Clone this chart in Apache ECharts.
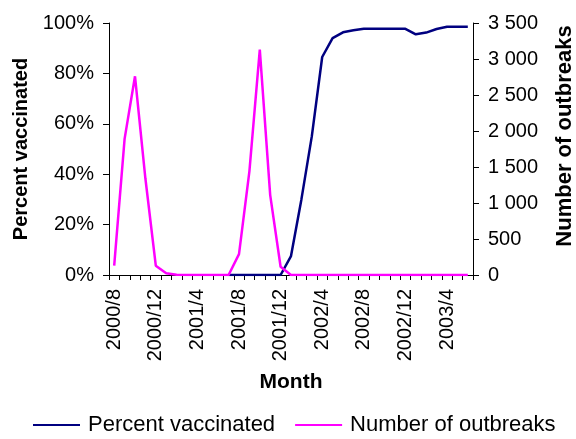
<!DOCTYPE html>
<html>
<head>
<meta charset="utf-8">
<script src="https://cdn.jsdelivr.net/npm/echarts@6/dist/echarts.min.js"></script>
<style>
html,body{margin:0;padding:0;background:#fff;}
#chart{width:576px;height:439px;}
</style>
</head>
<body>
<div id="chart"></div>
<script>
var months = ['2000/8','2000/9','2000/10','2000/11','2000/12',
  '2001/1','2001/2','2001/3','2001/4','2001/5','2001/6','2001/7','2001/8','2001/9','2001/10','2001/11','2001/12',
  '2002/1','2002/2','2002/3','2002/4','2002/5','2002/6','2002/7','2002/8','2002/9','2002/10','2002/11','2002/12',
  '2003/1','2003/2','2003/3','2003/4','2003/5','2003/6'];
var percentVaccinated = [null,null,null,null,null,null,null,null,null,null,null,
  0,0,0,0,0,0,
  7.5,30,55,86.5,94,96.3,97.1,97.7,97.7,97.7,97.7,97.7,
  95.5,96.2,97.6,98.5,98.5,98.5];
var numberOfOutbreaks = [130,1890,2760,1340,130,
  25,5,0,0,0,0,0,290,1440,3130,1110,115,
  0,0,0,0,0,0,0,0,0,0,0,0,
  0,0,0,0,0,0];
var leftTicks = [0,20,40,60,80,100];
var rightTicks = [0,500,1000,1500,2000,2500,3000,3500];

var font = 'Liberation Sans, Arial, sans-serif';
var chart = echarts.init(document.getElementById('chart'), null, {renderer:'canvas'});
chart.setOption({
  animation:false,
  backgroundColor:'#ffffff',
  textStyle:{fontFamily:font, color:'#000'},
  grid:{left:109, right:103, top:23, bottom:164, containLabel:false, outerBoundsMode:'none'},
  legend:{
    left:28, top:409, itemGap:20, itemWidth:47, itemHeight:2,
    icon:'rect',
    textStyle:{fontFamily:font, fontSize:22, color:'#000', padding:[0,0,0,3]},
    data:['Percent vaccinated','Number of outbreaks']
  },
  xAxis:{
    type:'category', data:months, boundaryGap:true,
    name:'Month', nameLocation:'middle', nameGap:97,
    nameTextStyle:{fontFamily:font, fontSize:21, fontWeight:'bold', color:'#000'},
    axisLine:{lineStyle:{color:'#000', width:1}},
    axisTick:{show:true, interval:0, length:5, lineStyle:{color:'#000'}},
    axisLabel:{interval:3, rotate:90, margin:14, fontFamily:font, fontSize:20, color:'#000'},
    splitLine:{show:false}
  },
  yAxis:[{
    type:'value', min:0, max:100, interval:20, position:'left',
    name:'Percent vaccinated', nameLocation:'middle', nameGap:76,
    nameTextStyle:{fontFamily:font, fontSize:20, fontWeight:'bold', color:'#000'},
    axisLine:{show:true, lineStyle:{color:'#000', width:1}},
    axisTick:{show:true, length:6, lineStyle:{color:'#000'}},
    axisLabel:{margin:15, fontFamily:font, fontSize:20, color:'#000', formatter:'{value}%'},
    splitLine:{show:false}
  },{
    type:'value', min:0, max:3500, interval:500, position:'right',
    name:'Number of outbreaks', nameLocation:'middle', nameGap:81,
    nameTextStyle:{fontFamily:font, fontSize:22, fontWeight:'bold', color:'#000', padding:[0,0,0,26]},
    axisLine:{show:true, lineStyle:{color:'#000', width:1}},
    axisTick:{show:true, length:6, lineStyle:{color:'#000'}},
    axisLabel:{margin:15, fontFamily:font, fontSize:20, color:'#000',
      formatter:function(v){return String(v).replace(/\B(?=(\d{3})+(?!\d))/g,' ');}},
    splitLine:{show:false}
  }],
  series:[{
    name:'Percent vaccinated', type:'line', yAxisIndex:0, data:percentVaccinated,
    showSymbol:false, symbol:'none', color:'#000080',
    lineStyle:{color:'#000080', width:2.5}
  },{
    name:'Number of outbreaks', type:'line', yAxisIndex:1, data:numberOfOutbreaks,
    showSymbol:false, symbol:'none', color:'#ff00ff',
    lineStyle:{color:'#ff00ff', width:2.5}
  }]
});
</script>
</body>
</html>
